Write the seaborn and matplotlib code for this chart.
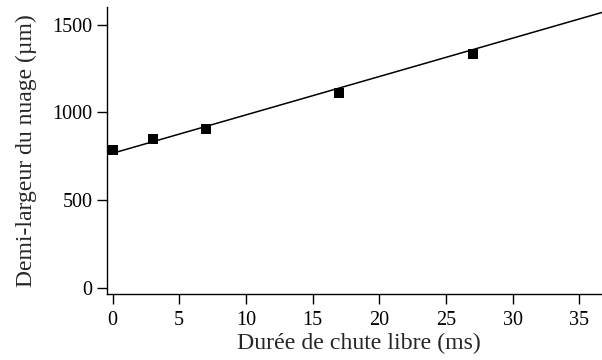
import matplotlib
matplotlib.use("Agg")
import matplotlib.pyplot as plt
import seaborn as sns
import pandas as pd

duree_ms = [0, 3, 7, 17, 27]
demi_largeur_um = [784, 848, 904, 1113, 1335]

# Fitted straight line, drawn between its two end points
fit_x = [0, 36.7]
fit_y = [767, 1571]

sns.set_style("ticks")
plt.rcParams["font.family"] = ["Liberation Serif", "DejaVu Serif"]

df = pd.DataFrame({"x": duree_ms, "y": demi_largeur_um})
fit = pd.DataFrame({"x": fit_x, "y": fit_y})

fig = plt.figure(figsize=(6.02, 3.6), dpi=100)
ax = fig.add_axes([0.177, 0.183, 0.823, 0.798])

sns.lineplot(data=fit, x="x", y="y", ax=ax, color="black", linewidth=1.1)
sns.scatterplot(data=df, x="x", y="y", ax=ax, marker="s", s=42,
                color="black", linewidth=0, zorder=3)

ax.set_xlim(-0.45, 36.7)
ax.set_ylim(-37, 1603)
ax.set_xticks([0, 5, 10, 15, 20, 25, 30, 35])
ax.set_yticks([0, 500, 1000, 1500])

ax.set_xlabel("Durée de chute libre (ms)", fontsize=17.2, labelpad=2)
ax.set_ylabel("Demi-largeur du nuage (µm)", fontsize=17, labelpad=11)
ax.xaxis.set_label_coords(0.51, -0.135)
ax.tick_params(axis="both", direction="out", length=7, width=1,
               labelsize=14.5, color="black", labelcolor="black")
ax.tick_params(axis="x", pad=5)
ax.tick_params(axis="y", pad=3)

sns.despine(ax=ax)
for side in ["left", "bottom"]:
    ax.spines[side].set_color("black")
    ax.spines[side].set_linewidth(1)

fig.savefig("out.png", dpi=100)
